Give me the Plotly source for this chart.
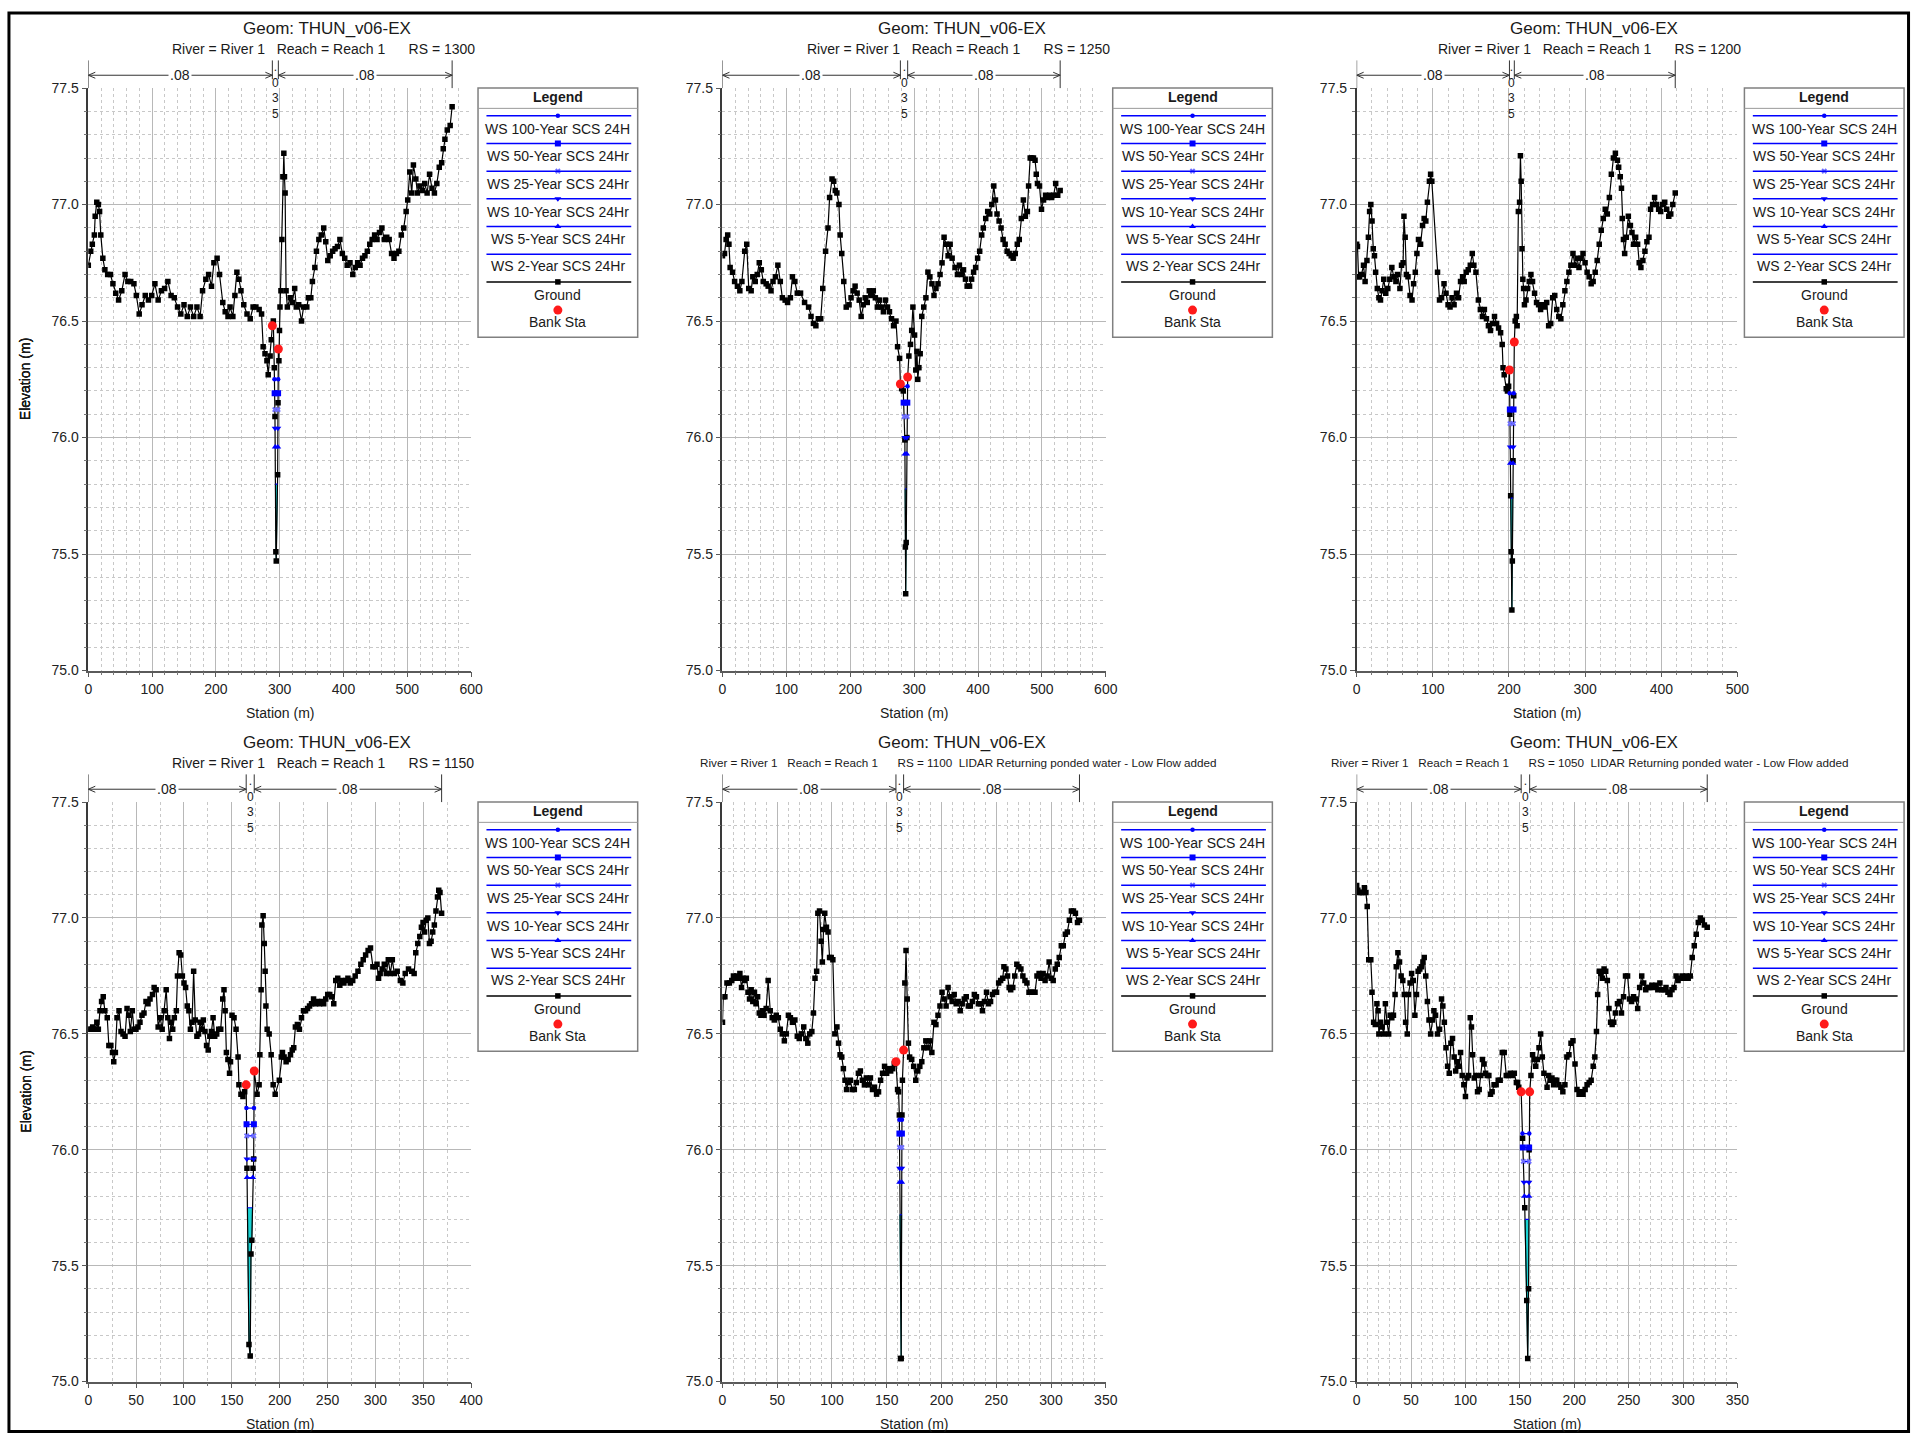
import numpy as np
import plotly.graph_objects as go

W, H = 1925, 1441
FONT = "Liberation Sans, Arial, Helvetica, sans-serif"

# ---------------- data ----------------
geom_name = "Geom: THUN_v06-EX"
river_name = "River 1"
reach_name = "Reach 1"
river_stations = [1300, 1250, 1200, 1150, 1100, 1050]
rs_notes = ["", "", "", "", "LIDAR Returning ponded water - Low Flow added",
            "LIDAR Returning ponded water - Low Flow added"]
profile_names = ["WS 100-Year SCS 24H", "WS 50-Year SCS 24Hr", "WS 25-Year SCS 24Hr",
                 "WS 10-Year SCS 24Hr", "WS 5-Year SCS 24Hr", "WS 2-Year SCS 24Hr"]
ground_label = "Ground"
bank_label = "Bank Sta"
mann_n = [".08", ".035", ".08"]

xs_max = [600, 600, 500, 400, 350, 350]
xs_major = [100, 100, 100, 50, 50, 50]
xs_minor = [20, 20, 20, 25, 10, 10]
elev_range = [75.0, 77.5]

ground_1300 = [
    (0.0, 76.74), (3.8, 76.80), (6.3, 76.83), (9.5, 76.87), (10.8, 76.95), (13.3, 77.01), (15.8, 77.00),
    (17.7, 76.97), (19.6, 76.87), (22.8, 76.77), (26.0, 76.72), (30.4, 76.70), (34.8, 76.70), (38.6, 76.66),
    (43.0, 76.62), (47.5, 76.59), (52.5, 76.63), (57.6, 76.70), (62.0, 76.67), (66.5, 76.67), (71.5, 76.66),
    (75.3, 76.61), (79.8, 76.53), (84.2, 76.57), (89.3, 76.61), (94.3, 76.59), (99.4, 76.61), (104.4, 76.66),
    (109.5, 76.59), (114.6, 76.63), (119.6, 76.64), (124.7, 76.67), (129.8, 76.61), (134.8, 76.60),
    (139.9, 76.56), (145.0, 76.53), (150.0, 76.57), (155.1, 76.52), (160.1, 76.56), (165.2, 76.52),
    (170.3, 76.56), (175.3, 76.52), (179.1, 76.63), (184.2, 76.68), (188.6, 76.70), (193.1, 76.65),
    (196.9, 76.75), (201.9, 76.77), (205.7, 76.70), (210.8, 76.58), (214.6, 76.54), (219.0, 76.52),
    (222.2, 76.56), (226.6, 76.52), (229.8, 76.61), (232.9, 76.71), (236.1, 76.68), (239.3, 76.63),
    (243.7, 76.57), (248.8, 76.53), (253.8, 76.51), (258.3, 76.56), (262.7, 76.56), (267.8, 76.55),
    (271.6, 76.53), (274.1, 76.39), (277.0, 76.36), (280.0, 76.33), (282.0, 76.27), (285.0, 76.35),
    (286.8, 76.42), (288.5, 76.48), (290.0, 76.50), (291.5, 76.30), (292.6, 76.09), (294.0, 75.51),
    (294.6, 75.47), (296.8, 75.84), (297.4, 76.15), (297.9, 76.38), (298.8, 76.33), (299.7, 76.46),
    (300.5, 76.56), (302.0, 76.63), (303.5, 76.85), (305.0, 77.12), (306.5, 77.22), (307.5, 77.12),
    (308.5, 77.05), (310.0, 76.63), (312.0, 76.56), (316.5, 76.60), (319.7, 76.58), (323.5, 76.64),
    (326.0, 76.56), (329.8, 76.57), (334.2, 76.50), (337.4, 76.56), (342.5, 76.56), (345.0, 76.60),
    (348.8, 76.60), (351.3, 76.67), (355.1, 76.73), (357.6, 76.80), (361.4, 76.85), (365.2, 76.87),
    (369.0, 76.90), (372.2, 76.84), (375.4, 76.76), (379.2, 76.78), (383.0, 76.80), (386.8, 76.81),
    (390.6, 76.82), (394.4, 76.85), (398.2, 76.79), (402.0, 76.77), (405.8, 76.74), (410.2, 76.75),
    (414.6, 76.70), (418.4, 76.73), (422.2, 76.75), (426.0, 76.74), (429.8, 76.77), (433.6, 76.78),
    (437.4, 76.80), (441.2, 76.83), (445.0, 76.85), (448.8, 76.87), (452.6, 76.85), (456.4, 76.88),
    (460.2, 76.90), (464.0, 76.85), (467.8, 76.86), (471.6, 76.85), (475.4, 76.79), (479.2, 76.77),
    (483.0, 76.79), (486.8, 76.80), (490.6, 76.87), (494.4, 76.90), (498.2, 76.97), (500.7, 77.02),
    (503.9, 77.14), (507.0, 77.05), (509.6, 77.17), (513.4, 77.11), (515.9, 77.05), (519.7, 77.08),
    (523.5, 77.06), (527.3, 77.09), (531.1, 77.05), (534.9, 77.13), (538.7, 77.07), (542.5, 77.05),
    (546.3, 77.09), (550.1, 77.16), (553.9, 77.18), (556.4, 77.24), (559.0, 77.28), (562.7, 77.32),
    (567.2, 77.34), (570.3, 77.42)]
bank_sta_1300 = [288.5, 297.9]
ws_1300 = [76.25, 76.19, 76.12, 76.04, 75.96, 75.80]

ground_1250 = [
    (0.0, 76.78), (3.2, 76.79), (5.7, 76.85), (8.2, 76.87), (10.1, 76.83), (12.0, 76.73), (15.8, 76.71),
    (19.0, 76.67), (23.4, 76.65), (27.2, 76.63), (30.4, 76.67), (34.8, 76.80), (38.0, 76.83), (41.1, 76.64),
    (44.9, 76.63), (47.5, 76.69), (51.3, 76.67), (54.4, 76.70), (57.6, 76.75), (60.8, 76.72), (63.9, 76.67),
    (68.4, 76.66), (71.5, 76.65), (76.0, 76.63), (79.1, 76.67), (82.9, 76.69), (86.7, 76.74), (90.5, 76.67),
    (93.7, 76.60), (98.1, 76.59), (101.9, 76.58), (106.3, 76.60), (109.5, 76.69), (113.3, 76.67),
    (117.1, 76.62), (122.2, 76.62), (128.5, 76.58), (134.8, 76.56), (138.6, 76.52), (142.4, 76.49),
    (146.2, 76.48), (150.0, 76.51), (153.8, 76.51), (157.0, 76.64), (161.4, 76.80), (165.2, 76.90),
    (167.7, 77.03), (171.5, 77.11), (174.1, 77.10), (176.6, 77.06), (179.1, 77.05), (182.3, 77.00),
    (184.2, 76.87), (186.7, 76.79), (189.9, 76.67), (193.7, 76.56), (198.1, 76.57), (201.3, 76.60),
    (204.5, 76.63), (207.6, 76.65), (210.8, 76.62), (214.0, 76.59), (217.1, 76.52), (220.3, 76.57),
    (223.4, 76.60), (226.6, 76.58), (229.8, 76.63), (232.9, 76.61), (236.1, 76.63), (239.3, 76.60),
    (242.4, 76.56), (245.6, 76.59), (248.8, 76.56), (251.9, 76.54), (255.1, 76.59), (258.3, 76.56),
    (261.4, 76.54), (264.6, 76.51), (267.8, 76.48), (271.6, 76.50), (274.1, 76.39), (277.3, 76.34),
    (278.5, 76.23), (280.5, 76.21), (283.0, 76.20), (285.5, 75.99), (286.3, 75.53), (286.8, 75.33),
    (287.6, 75.55), (288.6, 76.00), (289.9, 76.26), (291.8, 76.35), (294.3, 76.40), (296.2, 76.46),
    (298.1, 76.56), (300.7, 76.44), (302.6, 76.29), (304.5, 76.37), (305.7, 76.25), (307.5, 76.30),
    (309.5, 76.36), (312.0, 76.52), (315.1, 76.56), (318.4, 76.60), (321.6, 76.71), (324.7, 76.69),
    (327.9, 76.66), (331.1, 76.61), (334.2, 76.64), (337.4, 76.66), (340.6, 76.70), (343.7, 76.75),
    (346.9, 76.86), (350.0, 76.83), (353.2, 76.78), (356.4, 76.83), (359.5, 76.77), (364.0, 76.73),
    (367.8, 76.70), (370.9, 76.74), (374.1, 76.70), (377.3, 76.72), (380.4, 76.68), (383.0, 76.65),
    (386.8, 76.65), (390.0, 76.68), (393.1, 76.71), (396.3, 76.73), (399.4, 76.77), (402.6, 76.80),
    (405.8, 76.87), (408.3, 76.90), (412.1, 76.94), (415.2, 76.97), (418.4, 76.96), (421.6, 77.00),
    (424.7, 77.08), (427.3, 77.02), (429.8, 76.96), (433.0, 76.93), (436.1, 76.90), (439.3, 76.85),
    (442.5, 76.83), (445.6, 76.80), (448.8, 76.79), (452.0, 76.78), (455.1, 76.77), (458.3, 76.79),
    (461.5, 76.83), (464.6, 76.85), (467.8, 76.94), (471.0, 77.02), (474.1, 76.95), (477.3, 76.97),
    (479.2, 77.08), (481.7, 77.20), (484.2, 77.20), (486.8, 77.20), (489.3, 77.19), (491.2, 77.13),
    (493.1, 77.09), (496.3, 77.08), (499.4, 76.98), (502.6, 77.02), (505.8, 77.04), (508.9, 77.03),
    (512.1, 77.04), (515.3, 77.03), (518.4, 77.04), (521.6, 77.09), (524.8, 77.04), (528.6, 77.06)]
bank_sta_1250 = [278.5, 289.9]
ws_1250 = [76.22, 76.15, 76.09, 76.00, 75.93, 75.78]

ground_1200 = [
    (0.0, 76.83), (1.1, 76.82), (2.5, 76.69), (3.7, 76.69), (6.4, 76.70), (9.0, 76.74), (11.1, 76.67),
    (13.5, 76.76), (15.4, 76.86), (17.0, 76.97), (18.6, 77.00), (20.2, 76.93), (21.8, 76.81), (23.4, 76.78),
    (24.9, 76.71), (27.1, 76.64), (29.2, 76.60), (31.3, 76.59), (33.4, 76.63), (35.6, 76.68), (38.2, 76.62),
    (40.9, 76.64), (43.5, 76.68), (46.2, 76.73), (48.8, 76.69), (51.5, 76.67), (53.6, 76.70), (56.8, 76.64),
    (58.9, 76.74), (61.0, 76.75), (62.1, 76.95), (63.7, 76.86), (65.3, 76.70), (67.4, 76.69), (70.1, 76.61),
    (72.7, 76.59), (74.8, 76.66), (77.0, 76.71), (79.1, 76.79), (81.2, 76.85), (83.9, 76.83), (86.5, 76.91),
    (88.6, 76.94), (90.8, 76.93), (92.9, 77.01), (95.5, 77.10), (97.1, 77.13), (98.7, 77.10), (106.2, 76.71),
    (108.8, 76.59), (111.5, 76.60), (114.7, 76.66), (117.3, 76.62), (120.0, 76.57), (122.6, 76.56),
    (125.3, 76.60), (127.9, 76.57), (131.1, 76.62), (133.8, 76.60), (136.4, 76.67), (139.1, 76.69),
    (141.2, 76.67), (143.8, 76.71), (146.5, 76.72), (149.2, 76.74), (151.8, 76.79), (153.9, 76.74),
    (156.6, 76.71), (159.8, 76.59), (162.4, 76.55), (165.1, 76.52), (167.7, 76.55), (170.4, 76.51),
    (173.0, 76.48), (175.7, 76.46), (178.3, 76.49), (181.0, 76.52), (183.7, 76.49), (186.3, 76.47),
    (189.0, 76.45), (191.1, 76.40), (192.2, 76.30), (193.7, 76.27), (196.4, 76.21), (198.0, 76.20),
    (199.5, 76.22), (200.6, 76.29), (201.2, 76.10), (202.2, 75.75), (202.8, 75.51), (203.8, 75.26),
    (204.4, 75.47), (205.3, 75.90), (206.2, 76.18), (207.0, 76.41), (208.1, 76.50), (209.7, 76.52),
    (210.7, 76.48), (212.3, 76.97), (213.9, 77.01), (215.0, 77.21), (216.0, 77.10), (217.1, 76.81),
    (218.2, 76.68), (219.2, 76.64), (220.3, 76.57), (222.4, 76.59), (224.5, 76.64), (226.6, 76.67),
    (228.8, 76.70), (230.9, 76.67), (233.6, 76.62), (236.2, 76.58), (238.9, 76.57), (241.5, 76.55),
    (244.2, 76.57), (246.8, 76.56), (249.5, 76.58), (252.1, 76.48), (254.8, 76.49), (257.4, 76.60),
    (260.1, 76.61), (262.7, 76.55), (265.4, 76.52), (268.1, 76.51), (270.7, 76.57), (273.4, 76.63),
    (276.0, 76.67), (278.7, 76.71), (281.3, 76.74), (284.0, 76.79), (286.6, 76.74), (289.3, 76.77),
    (291.9, 76.73), (294.6, 76.77), (297.2, 76.79), (299.9, 76.75), (302.6, 76.71), (305.2, 76.69),
    (307.9, 76.66), (310.5, 76.67), (313.2, 76.71), (315.8, 76.76), (318.5, 76.83), (321.1, 76.89),
    (323.8, 76.94), (326.4, 76.98), (329.1, 76.96), (331.8, 77.03), (334.4, 77.13), (337.1, 77.20),
    (339.7, 77.22), (342.4, 77.19), (344.0, 77.16), (346.1, 77.12), (347.7, 77.07), (348.7, 76.94),
    (350.3, 76.85), (351.9, 76.79), (354.0, 76.86), (356.7, 76.95), (359.4, 76.91), (361.5, 76.88),
    (363.6, 76.83), (366.3, 76.86), (368.9, 76.83), (371.0, 76.75), (373.2, 76.73), (375.8, 76.76),
    (378.5, 76.80), (381.1, 76.84), (383.8, 76.86), (385.9, 76.98), (388.6, 77.00), (391.2, 77.03),
    (393.9, 77.00), (396.5, 76.98), (399.2, 76.97), (401.8, 77.00), (404.5, 77.01), (407.1, 76.98),
    (409.8, 76.95), (412.4, 76.96), (415.1, 77.00), (418.3, 77.05)]
bank_sta_1200 = [200.6, 207.0]
ws_1200 = [76.19, 76.12, 76.06, 75.96, 75.89, 75.74]

ground_1150 = [
    (0.0, 76.52), (2.1, 76.52), (4.6, 76.53), (7.2, 76.52), (8.9, 76.55), (10.5, 76.52), (12.2, 76.60),
    (13.9, 76.64), (15.6, 76.66), (17.3, 76.60), (19.8, 76.57), (21.5, 76.45), (23.6, 76.45), (25.3, 76.42),
    (26.6, 76.38), (28.3, 76.42), (30.0, 76.57), (32.1, 76.60), (34.2, 76.51), (36.3, 76.50), (38.4, 76.49),
    (40.5, 76.61), (42.2, 76.58), (43.9, 76.51), (46.0, 76.60), (47.7, 76.52), (49.8, 76.52), (51.9, 76.53),
    (54.0, 76.55), (56.1, 76.58), (58.2, 76.59), (60.3, 76.64), (62.4, 76.63), (64.5, 76.65), (67.1, 76.67),
    (68.8, 76.70), (70.9, 76.69), (73.0, 76.53), (75.1, 76.57), (77.2, 76.52), (79.3, 76.60), (81.4, 76.69),
    (83.1, 76.57), (84.8, 76.48), (86.5, 76.55), (88.2, 76.52), (89.9, 76.57), (92.0, 76.60), (93.2, 76.75),
    (94.9, 76.85), (96.6, 76.84), (98.3, 76.75), (100.0, 76.72), (101.7, 76.70), (103.4, 76.62),
    (105.1, 76.60), (106.7, 76.52), (108.4, 76.55), (110.1, 76.77), (111.8, 76.56), (113.5, 76.49),
    (115.2, 76.50), (116.9, 76.55), (118.6, 76.52), (120.2, 76.56), (121.9, 76.51), (123.6, 76.45),
    (125.3, 76.43), (127.0, 76.49), (128.7, 76.51), (130.4, 76.57), (132.1, 76.49), (134.2, 76.50),
    (136.3, 76.52), (138.4, 76.52), (140.5, 76.65), (141.8, 76.69), (143.0, 76.60), (144.3, 76.42),
    (145.9, 76.39), (147.6, 76.33), (148.6, 76.38), (150.2, 76.58), (152.3, 76.57), (154.4, 76.52),
    (156.5, 76.40), (157.4, 76.28), (159.5, 76.24), (161.6, 76.23), (163.4, 76.25), (165.0, 76.28),
    (165.8, 75.92), (167.9, 75.16), (169.2, 75.11), (170.0, 75.55), (170.9, 75.61), (172.1, 75.92),
    (172.8, 75.96), (173.4, 76.34), (176.4, 76.24), (178.5, 76.28), (179.3, 76.41), (180.6, 76.69),
    (181.4, 76.97), (182.7, 77.01), (183.9, 76.89), (184.8, 76.77), (185.6, 76.62), (186.9, 76.52),
    (189.0, 76.50), (191.1, 76.41), (193.2, 76.28), (195.3, 76.24), (199.6, 76.30), (201.7, 76.40),
    (202.9, 76.42), (204.6, 76.40), (206.7, 76.38), (208.8, 76.39), (211.3, 76.41), (213.1, 76.43),
    (214.7, 76.44), (216.4, 76.53), (218.5, 76.54), (220.6, 76.52), (222.8, 76.57), (224.9, 76.60),
    (227.0, 76.60), (229.1, 76.61), (231.2, 76.62), (233.3, 76.63), (235.4, 76.65), (237.5, 76.63),
    (239.6, 76.64), (241.7, 76.63), (243.9, 76.64), (246.0, 76.63), (248.1, 76.65), (250.2, 76.67),
    (252.3, 76.67), (254.4, 76.66), (256.5, 76.63), (258.6, 76.73), (260.7, 76.74), (262.8, 76.71),
    (264.9, 76.73), (267.1, 76.72), (269.2, 76.73), (271.3, 76.74), (273.8, 76.72), (276.3, 76.73),
    (278.9, 76.75), (281.8, 76.77), (284.8, 76.80), (287.3, 76.82), (289.8, 76.84), (292.4, 76.86),
    (294.9, 76.87), (297.4, 76.79), (300.0, 76.79), (301.7, 76.80), (303.3, 76.74), (305.0, 76.76),
    (307.1, 76.78), (309.3, 76.80), (311.4, 76.76), (313.5, 76.82), (315.6, 76.76), (317.7, 76.82),
    (319.8, 76.76), (322.8, 76.77), (326.1, 76.73), (328.7, 76.72), (331.2, 76.76), (334.6, 76.78),
    (337.9, 76.77), (340.5, 76.76), (342.2, 76.85), (344.3, 76.89), (346.4, 76.92), (348.1, 76.96),
    (349.8, 76.98), (351.4, 76.94), (353.1, 76.99), (354.8, 77.00), (356.5, 76.89), (358.2, 76.90),
    (359.9, 76.94), (361.6, 76.97), (363.3, 77.03), (364.9, 77.09), (366.2, 77.12), (367.5, 77.11),
    (369.2, 77.02)]
bank_sta_1150 = [165.0, 173.4]
ws_1150 = [76.18, 76.11, 76.06, 75.96, 75.88, 75.75]

ground_1100 = [
    (0.0, 76.55), (0.7, 76.66), (2.2, 76.66), (4.1, 76.72), (6.3, 76.72), (8.5, 76.73), (10.0, 76.75),
    (11.4, 76.74), (12.9, 76.75), (14.4, 76.74), (15.9, 76.76), (17.4, 76.70), (18.8, 76.74), (20.3, 76.73),
    (21.8, 76.74), (23.3, 76.68), (24.7, 76.65), (26.2, 76.69), (27.7, 76.64), (29.2, 76.68), (30.6, 76.63),
    (32.1, 76.66), (33.6, 76.59), (35.1, 76.58), (36.6, 76.60), (38.0, 76.58), (39.9, 76.61), (41.7, 76.73),
    (43.6, 76.60), (45.4, 76.57), (47.3, 76.56), (49.1, 76.58), (51.0, 76.57), (52.8, 76.52), (54.6, 76.50),
    (56.5, 76.47), (58.3, 76.50), (60.2, 76.58), (62.0, 76.57), (63.9, 76.55), (66.1, 76.56), (68.3, 76.49),
    (70.1, 76.48), (72.0, 76.50), (74.2, 76.53), (76.1, 76.48), (77.9, 76.46), (79.7, 76.50), (81.6, 76.51),
    (83.1, 76.59), (84.5, 76.74), (86.0, 76.77), (87.1, 77.02), (88.6, 77.03), (90.1, 76.90), (91.2, 76.81),
    (92.3, 76.95), (93.4, 77.02), (94.9, 76.96), (96.4, 76.94), (97.8, 76.83), (99.3, 76.83), (100.8, 76.82),
    (102.6, 76.50), (104.5, 76.53), (106.0, 76.46), (107.4, 76.41), (108.9, 76.40), (110.4, 76.35),
    (111.9, 76.30), (113.3, 76.26), (114.8, 76.29), (116.7, 76.30), (118.5, 76.26), (120.4, 76.26),
    (122.2, 76.29), (124.1, 76.33), (125.9, 76.34), (127.7, 76.30), (129.6, 76.28), (131.4, 76.31),
    (133.3, 76.28), (135.1, 76.31), (137.0, 76.26), (138.8, 76.27), (140.7, 76.24), (142.5, 76.25),
    (144.4, 76.30), (146.2, 76.33), (148.0, 76.36), (149.9, 76.33), (151.7, 76.35), (153.6, 76.34),
    (155.4, 76.35), (156.9, 76.37), (158.4, 76.38), (159.9, 76.26), (160.8, 76.25), (161.5, 76.15),
    (162.6, 75.10), (163.2, 75.10), (163.9, 76.15), (164.3, 76.30), (165.4, 76.43), (166.5, 76.72),
    (167.6, 76.86), (168.7, 76.65), (169.8, 76.46), (170.9, 76.40), (172.8, 76.39), (174.6, 76.36),
    (176.5, 76.30), (178.3, 76.34), (180.2, 76.36), (182.0, 76.38), (183.9, 76.44), (185.7, 76.47),
    (187.6, 76.44), (189.4, 76.47), (191.2, 76.42), (193.1, 76.55), (194.9, 76.54), (196.8, 76.58),
    (198.6, 76.62), (200.5, 76.68), (202.3, 76.65), (204.2, 76.62), (206.0, 76.70), (207.9, 76.66),
    (209.7, 76.64), (211.6, 76.67), (213.4, 76.63), (215.2, 76.64), (217.1, 76.60), (218.9, 76.63),
    (220.8, 76.65), (222.6, 76.66), (224.5, 76.62), (226.3, 76.62), (228.2, 76.64), (230.0, 76.67),
    (231.9, 76.66), (233.7, 76.63), (235.6, 76.63), (237.4, 76.60), (239.2, 76.64), (241.1, 76.68),
    (242.9, 76.63), (244.8, 76.64), (246.6, 76.67), (248.5, 76.68), (250.3, 76.68), (252.2, 76.72),
    (254.0, 76.73), (255.9, 76.74), (257.0, 76.79), (258.8, 76.78), (260.3, 76.75), (261.8, 76.70),
    (263.2, 76.69), (265.1, 76.70), (266.9, 76.75), (268.8, 76.80), (270.6, 76.79), (272.5, 76.78),
    (274.3, 76.75), (276.2, 76.73), (278.0, 76.72), (279.9, 76.68), (281.7, 76.68), (283.5, 76.68),
    (285.4, 76.68), (287.2, 76.75), (289.1, 76.76), (290.9, 76.74), (292.8, 76.76), (294.6, 76.73),
    (296.5, 76.75), (298.3, 76.81), (300.2, 76.74), (302.0, 76.73), (303.9, 76.78), (305.7, 76.80),
    (307.5, 76.83), (309.4, 76.88), (311.2, 76.88), (313.1, 76.93), (314.9, 76.94), (316.8, 76.99),
    (318.6, 77.03), (320.5, 77.03), (322.3, 77.02), (324.2, 76.98), (326.0, 76.99)]
bank_sta_1100 = [158.4, 165.4]
ws_1100 = [76.13, 76.07, 76.01, 75.92, 75.86, 75.72]

ground_1050 = [
    (0.0, 77.14), (1.1, 77.12), (2.6, 77.11), (4.1, 77.11), (5.6, 77.11), (7.1, 77.13), (8.5, 77.11),
    (9.7, 77.05), (11.1, 76.82), (13.0, 76.82), (14.1, 76.68), (15.6, 76.55), (17.1, 76.54), (18.6, 76.63),
    (19.7, 76.60), (20.4, 76.50), (21.9, 76.55), (23.4, 76.53), (24.9, 76.50), (26.4, 76.63), (27.9, 76.55),
    (29.4, 76.50), (30.8, 76.58), (32.3, 76.57), (33.8, 76.58), (35.3, 76.67), (36.4, 76.79), (37.9, 76.85),
    (39.4, 76.81), (40.9, 76.75), (42.4, 76.73), (43.8, 76.67), (45.0, 76.55), (46.5, 76.50), (47.6, 76.67),
    (49.1, 76.72), (50.5, 76.76), (52.0, 76.73), (53.5, 76.58), (55.0, 76.67), (56.5, 76.77), (58.0, 76.78),
    (59.5, 76.79), (60.9, 76.81), (62.1, 76.83), (63.5, 76.75), (65.0, 76.64), (66.5, 76.56), (68.0, 76.50),
    (69.5, 76.56), (71.0, 76.60), (72.5, 76.58), (74.3, 76.50), (76.2, 76.52), (78.0, 76.65), (79.2, 76.62),
    (80.6, 76.55), (82.1, 76.44), (83.6, 76.36), (85.1, 76.33), (86.6, 76.46), (88.1, 76.48), (89.6, 76.40),
    (91.0, 76.34), (92.5, 76.38), (94.0, 76.36), (95.5, 76.42), (97.0, 76.32), (98.5, 76.28), (100.0, 76.23),
    (101.4, 76.31), (102.9, 76.32), (104.4, 76.57), (105.5, 76.53), (106.6, 76.41), (108.1, 76.31),
    (109.6, 76.32), (111.1, 76.25), (112.6, 76.26), (114.1, 76.32), (115.6, 76.39), (117.1, 76.37),
    (118.5, 76.33), (120.0, 76.32), (121.5, 76.32), (123.0, 76.24), (124.5, 76.25), (126.3, 76.28),
    (128.2, 76.28), (130.1, 76.30), (131.9, 76.30), (133.8, 76.42), (135.6, 76.42), (137.5, 76.32),
    (139.4, 76.32), (141.2, 76.33), (143.1, 76.32), (144.9, 76.33), (146.8, 76.29), (147.9, 76.29),
    (149.0, 76.27), (151.2, 76.25), (152.5, 76.05), (154.5, 75.75), (156.3, 75.35), (157.2, 75.10),
    (158.0, 75.40), (158.5, 76.00), (159.0, 76.25), (160.2, 76.32), (161.7, 76.41), (163.1, 76.39),
    (164.6, 76.36), (166.1, 76.39), (167.6, 76.44), (169.1, 76.50), (170.6, 76.40), (172.1, 76.33),
    (175.0, 76.27), (176.5, 76.32), (178.0, 76.30), (179.5, 76.31), (181.0, 76.28), (182.5, 76.30),
    (183.9, 76.30), (185.8, 76.28), (187.7, 76.27), (189.5, 76.25), (191.4, 76.28), (193.2, 76.40),
    (195.1, 76.41), (197.0, 76.46), (198.8, 76.47), (200.7, 76.37), (202.5, 76.26), (204.4, 76.24),
    (206.2, 76.25), (208.1, 76.24), (210.0, 76.26), (211.8, 76.28), (213.7, 76.29), (215.5, 76.30),
    (217.4, 76.36), (218.9, 76.40), (220.4, 76.51), (221.5, 76.67), (223.0, 76.77), (224.4, 76.76),
    (225.9, 76.74), (227.4, 76.78), (228.9, 76.77), (230.4, 76.73), (231.9, 76.61), (233.4, 76.55),
    (234.8, 76.54), (236.3, 76.55), (237.8, 76.59), (239.7, 76.63), (241.5, 76.64), (243.4, 76.59),
    (245.3, 76.66), (247.1, 76.75), (249.0, 76.75), (250.8, 76.65), (252.7, 76.64), (254.5, 76.66),
    (256.4, 76.65), (258.3, 76.61), (260.1, 76.70), (262.0, 76.75), (263.8, 76.72), (265.7, 76.69),
    (267.6, 76.70), (269.4, 76.70), (271.3, 76.71), (273.1, 76.70), (275.0, 76.71), (276.8, 76.69),
    (278.7, 76.72), (280.6, 76.69), (282.4, 76.69), (284.3, 76.70), (286.1, 76.68), (288.0, 76.67),
    (289.8, 76.69), (291.7, 76.70), (293.6, 76.75), (295.4, 76.73), (297.3, 76.74), (299.1, 76.75),
    (301.0, 76.74), (302.9, 76.75), (304.7, 76.74), (306.6, 76.75), (308.4, 76.83), (310.3, 76.88),
    (312.1, 76.93), (314.0, 76.98), (315.9, 77.00), (317.7, 76.99), (319.6, 76.97), (322.2, 76.96)]
bank_sta_1050 = [151.2, 159.0]
ws_1050 = [76.07, 76.01, 75.95, 75.86, 75.80, 75.70]

grounds = [ground_1300, ground_1250, ground_1200, ground_1150, ground_1100, ground_1050]
banks = [bank_sta_1300, bank_sta_1250, bank_sta_1200, bank_sta_1150, bank_sta_1100, bank_sta_1050]
wss = [ws_1300, ws_1250, ws_1200, ws_1150, ws_1100, ws_1050]

# ---------------- layout (pixel boxes of the plot areas) ----------------
cells = [
    (85, 471, 81, 670, 326),
    (724.5, 1111, 81, 670, 966),
    (1364, 1748, 81, 670, 1603),
    (85, 471, 803, 1389, 326),
    (724.5, 1111, 803, 1389, 966),
    (1364, 1748, 803, 1389, 1603),
]


def px(x):
    return x / W


def py(y):
    return 1 - y / H


BLUE = "#0000ff"
ws_styles = [
    dict(symbol="circle", size=4.5, color=BLUE),
    dict(symbol="square", size=6, color=BLUE),
    dict(symbol="x", size=5, color="#6f6fff"),
    dict(symbol="triangle-down", size=6, color=BLUE),
    dict(symbol="triangle-up", size=6, color=BLUE),
    None,
]


def crossings(sta, elev, ws):
    s = np.asarray(sta, float)
    e = np.asarray(elev, float)
    k = int(np.argmin(e))
    i = k
    while i > 0 and e[i] < ws:
        i -= 1
    xl = float(np.interp(ws, [e[i + 1], e[i]], [s[i + 1], s[i]]))
    j = k
    while j < len(e) - 1 and e[j] < ws:
        j += 1
    xr = float(np.interp(ws, [e[j - 1], e[j]], [s[j - 1], s[j]]))
    return xl, xr, i, j


fig = go.Figure()
shapes = []
annotations = []
layout_axes = {}
tick_font = dict(family=FONT, size=14, color="#222222")
TXT = 14


def ann(text, x, y, size=TXT, xref="paper", yref="paper", **kw):
    d = dict(text=text, x=x, y=y, xref=xref, yref=yref, showarrow=False,
             font=dict(family=FONT, size=size, color="#1a1a1a"), xanchor="center", yanchor="middle")
    d.update(kw)
    annotations.append(d)


for p in range(6):
    l, r, t, b, tc = cells[p]
    sfx = "" if p == 0 else str(p + 1)
    xr_, yr_ = "x" + sfx, "y" + sfx
    layout_axes["xaxis" + sfx] = dict(
        domain=[px(l), px(r)], range=[0, xs_max[p]], anchor=yr_, tick0=0, dtick=xs_major[p],
        showgrid=True, gridcolor="#b8b8b8", gridwidth=1, zeroline=False,
        showline=True, linecolor="#5a5a5a", linewidth=1.5, ticks="outside", ticklen=5,
        tickcolor="#5a5a5a", tickfont=tick_font, fixedrange=True,
        minor=dict(tick0=0, dtick=xs_minor[p], showgrid=True, gridcolor="#c8c8c8",
                   griddash="3px,3px", gridwidth=1, ticks="outside", ticklen=3, tickcolor="#777777"))
    layout_axes["yaxis" + sfx] = dict(
        domain=[py(b), py(t)], range=elev_range, anchor=xr_, tick0=75, dtick=0.5, tickformat=".1f",
        showgrid=True, gridcolor="#b8b8b8", gridwidth=1, zeroline=False,
        showline=True, linecolor="#3a3a3a", linewidth=1.5, ticks="outside", ticklen=5,
        tickcolor="#5a5a5a", tickfont=tick_font, fixedrange=True,
        minor=dict(tick0=75, dtick=0.1, showgrid=True, gridcolor="#c8c8c8",
                   griddash="3px,3px", gridwidth=1, ticks="outside", ticklen=3, tickcolor="#777777"))

    sta = [g[0] for g in grounds[p]]
    elev = [g[1] for g in grounds[p]]
    ws_list = wss[p]

    # 2-year water fill
    xl, xrr, i0, j0 = crossings(sta, elev, ws_list[5])
    fx = [xl] + sta[i0 + 1:j0] + [xrr]
    fy = [ws_list[5]] + elev[i0 + 1:j0] + [ws_list[5]]
    fig.add_trace(go.Scatter(x=fx, y=fy, fill="toself", fillcolor="#19d3d3", mode="lines",
                             line=dict(color="#109090", width=1), xaxis=xr_, yaxis=yr_,
                             showlegend=False, hoverinfo="skip"))
    # ground
    fig.add_trace(go.Scatter(x=sta, y=elev, mode="lines+markers", name=ground_label,
                             line=dict(color="black", width=1.2),
                             marker=dict(symbol="square", size=5.5, color="black"),
                             xaxis=xr_, yaxis=yr_, showlegend=False))
    # water surfaces
    for k, ws in enumerate(ws_list):
        a, c, _, _ = crossings(sta, elev, ws)
        st = ws_styles[k]
        if st is None:
            fig.add_trace(go.Scatter(x=[a, c], y=[ws, ws], mode="lines", name=profile_names[k],
                                     line=dict(color=BLUE, width=1.2), xaxis=xr_, yaxis=yr_,
                                     showlegend=False))
        else:
            fig.add_trace(go.Scatter(x=[a, c], y=[ws, ws], mode="lines+markers", name=profile_names[k],
                                     line=dict(color=BLUE, width=1.2), marker=st,
                                     xaxis=xr_, yaxis=yr_, showlegend=False))
    # bank stations
    bank_el = [float(np.interp(bs, sta, elev)) for bs in banks[p]]
    fig.add_trace(go.Scatter(x=banks[p], y=bank_el, mode="markers", name=bank_label,
                             marker=dict(symbol="circle", size=9, color="#ff1a1a"),
                             xaxis=xr_, yaxis=yr_, showlegend=False))

    # ---------- titles ----------
    nb = "\u00a0"
    sub = f"River = {river_name}{nb*3}Reach = {reach_name}{nb*6}RS = {river_stations[p]}"
    if rs_notes[p]:
        sub += nb * 2 + rs_notes[p]
        sub_size = 11.7
    else:
        sub_size = 14
    ann(geom_name, px(tc), py(t - 60), size=17)
    ann(sub, px(tc - 4), py(t - 40), size=sub_size)
    ann("Station (m)", px((l + r) / 2), py(b + 43), size=TXT)
    ann("Elevation (m)", px(22), py((t + b) / 2), size=TXT, textangle=-90)

    # ---------- Manning's n bar ----------
    s_first, s_last = sta[0], sta[-1]
    bl, br = banks[p]
    ya = py(t - 13)
    for xv, y_end in [(s_first, t), (bl, t - 9), (br, t - 9), (s_last, t)]:
        shapes.append(dict(type="line", xref=xr_, yref="paper", x0=xv, x1=xv,
                           y0=py(t - 28), y1=py(y_end), line=dict(color="#333", width=1)))
    for a, c in [(s_first, bl), (br, s_last)]:
        shapes.append(dict(type="line", xref=xr_, yref="paper", x0=a, x1=c, y0=ya, y1=ya,
                           line=dict(color="#333", width=1)))
        for anchor, sgn in [(a, 1), (c, -1)]:
            for dy in (3, -3):
                shapes.append(dict(type="line", xref=xr_, yref="paper", xsizemode="pixel",
                                   ysizemode="pixel", xanchor=anchor, yanchor=ya,
                                   x0=0, x1=7 * sgn, y0=0, y1=dy, line=dict(color="#333", width=1)))
        ann(mann_n[0], (a + c) / 2, ya, xref=xr_, bgcolor="white", borderpad=1)
    # channel n value written vertically
    cx = (bl + br) / 2
    ann("<br>".join(list(mann_n[1])), cx, py(t + 2), size=12, xref=xr_)

    # ---------- legend box ----------
    bx0, bx1 = r + 7, r + 168
    shapes.append(dict(type="rect", xref="paper", yref="paper", x0=px(bx0), x1=px(bx1),
                       y0=py(t + 252), y1=py(t), line=dict(color="#808080", width=1.5),
                       fillcolor="rgba(0,0,0,0)"))
    shapes.append(dict(type="line", xref="paper", yref="paper", x0=px(bx0), x1=px(bx1),
                       y0=py(t + 20.5), y1=py(t + 20.5), line=dict(color="#9a9a9a", width=1)))
    lcx = (bx0 + bx1) / 2
    ann("<b>Legend</b>", px(lcx), py(t + 9.5), size=14)
    line_off = [28, 56, 84, 112, 140, 168, 196]
    text_off = [41, 69, 97, 125, 152.5, 180, 209]
    labels = profile_names + [ground_label]
    for k in range(7):
        shapes.append(dict(type="line", xref="paper", yref="paper", x0=px(bx0 + 8.5), x1=px(bx0 + 154.5),
                           y0=py(t + line_off[k]), y1=py(t + line_off[k]),
                           line=dict(color=BLUE if k < 6 else "black", width=1.5)))
        ann(labels[k], px(lcx), py(t + text_off[k]), size=TXT)
    ann(bank_label, px(lcx), py(t + 236.5), size=TXT)

# legend glyphs on a full-page overlay axis (transparent background)
layout_axes["xaxis7"] = dict(domain=[0, 1], range=[0, W], visible=False, anchor="y7", fixedrange=True)
layout_axes["yaxis7"] = dict(domain=[0, 1], range=[H, 0], visible=False, anchor="x7", fixedrange=True)
leg_cx = [(c[1] + 7 + c[1] + 168) / 2 for c in cells]
leg_top = [c[2] for c in cells]
glyphs = [(ws_styles[0], 28), (ws_styles[1], 56), (ws_styles[2], 84), (ws_styles[3], 112),
          (ws_styles[4], 140), (dict(symbol="square", size=5.5, color="black"), 196),
          (dict(symbol="circle", size=9, color="#ff1a1a"), 224.5)]
for st, off in glyphs:
    fig.add_trace(go.Scatter(x=leg_cx, y=[tt + off for tt in leg_top], mode="markers", marker=st,
                             xaxis="x7", yaxis="y7", showlegend=False, hoverinfo="skip"))

# outer frame
shapes.append(dict(type="rect", xref="paper", yref="paper", x0=px(5), x1=px(1920.5), y0=py(1439.5), y1=py(5),
                   line=dict(color="black", width=3)))

fig.update_layout(width=W, height=H, margin=dict(l=0, r=0, t=0, b=0), paper_bgcolor="white",
                  plot_bgcolor="rgba(0,0,0,0)", showlegend=False, shapes=shapes, annotations=annotations,
                  font=dict(family=FONT, color="#1a1a1a"), **layout_axes)

fig.write_html("out.html", config={"displayModeBar": False},
               post_script="document.body.style.margin='0';document.body.style.overflow='hidden';")
